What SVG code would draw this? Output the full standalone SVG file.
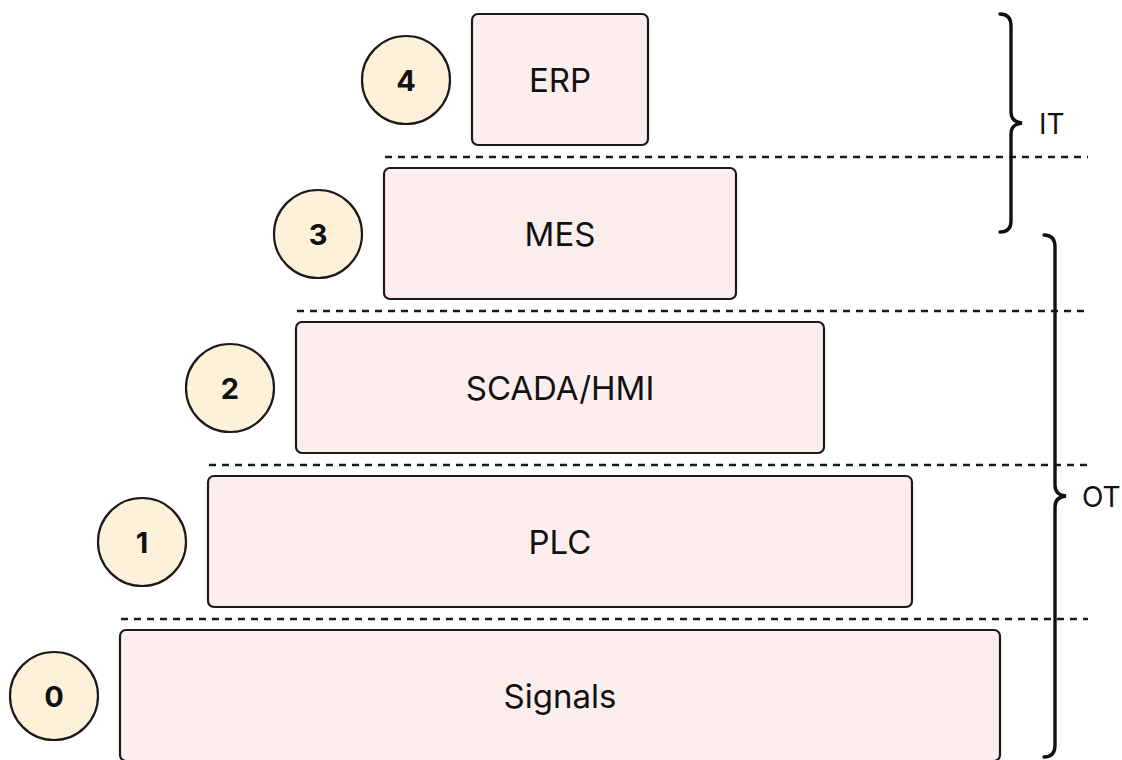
<svg xmlns="http://www.w3.org/2000/svg" width="1122" height="760" viewBox="0 0 1122 760">
  <style>
    .box { fill: #fdeeee; stroke: #1a1a1a; stroke-width: 2.2; }
    .badge { fill: #fdf1d9; stroke: #1a1a1a; stroke-width: 2.2; }
    .label { font-family: Inter, "Liberation Sans", sans-serif; font-size: 33px; fill: #111; text-anchor: middle; dominant-baseline: central; }
    .num { font-family: Inter, "Liberation Sans", sans-serif; font-size: 29px; font-weight: 700; fill: #111; text-anchor: middle; dominant-baseline: central; }
    .sep { stroke: #1a1a1a; stroke-width: 2.4; stroke-dasharray: 7 6; fill: none; }
    .brace { stroke: #111; stroke-width: 3.4; fill: none; stroke-linecap: round; }
    .group { font-family: Inter, "Liberation Sans", sans-serif; font-size: 28px; fill: #111; dominant-baseline: central; }
  </style>

  <rect width="1122" height="760" fill="#ffffff"/>

  <!-- level separators -->
  <g id="separators">
    <line class="sep" x1="385" y1="157" x2="1088" y2="157"/>
    <line class="sep" x1="297" y1="311" x2="1088" y2="311"/>
    <line class="sep" x1="209" y1="465" x2="1088" y2="465"/>
    <line class="sep" x1="121" y1="619" x2="1088" y2="619"/>
  </g>

  <!-- level 4 -->
  <g id="level-4">
    <circle class="badge" cx="406" cy="80" r="44"/>
    <text class="num" x="406" y="80">4</text>
    <rect class="box" x="472" y="14" width="176" height="131" rx="6"/>
    <text class="label" x="560" y="80">ERP</text>
  </g>

  <!-- level 3 -->
  <g id="level-3">
    <circle class="badge" cx="318" cy="234" r="44"/>
    <text class="num" x="318" y="234">3</text>
    <rect class="box" x="384" y="168" width="352" height="131" rx="6"/>
    <text class="label" x="560" y="234">MES</text>
  </g>

  <!-- level 2 -->
  <g id="level-2">
    <circle class="badge" cx="230" cy="388" r="44"/>
    <text class="num" x="230" y="388">2</text>
    <rect class="box" x="296" y="322" width="528" height="131" rx="6"/>
    <text class="label" x="560" y="388">SCADA/HMI</text>
  </g>

  <!-- level 1 -->
  <g id="level-1">
    <circle class="badge" cx="142" cy="542" r="44"/>
    <text class="num" x="142" y="542">1</text>
    <rect class="box" x="208" y="476" width="704" height="131" rx="6"/>
    <text class="label" x="560" y="542">PLC</text>
  </g>

  <!-- level 0 -->
  <g id="level-0">
    <circle class="badge" cx="54" cy="696" r="44"/>
    <text class="num" x="54" y="696">0</text>
    <rect class="box" x="120" y="630" width="880" height="131" rx="6"/>
    <text class="label" x="560" y="696">Signals</text>
  </g>

  <!-- IT / OT groupings -->
  <g id="it-group">
    <path class="brace" d="M 1000 14 Q 1011 14 1011 26 L 1011 112 Q 1011 122 1022 123 Q 1011 124 1011 134 L 1011 221 Q 1011 232 1000 232"/>
    <text class="group" x="1039" y="124">IT</text>
  </g>
  <g id="ot-group">
    <path class="brace" d="M 1044 235 Q 1055 235 1055 247 L 1055 485 Q 1055 495 1066 496 Q 1055 497 1055 507 L 1055 745 Q 1055 757 1044 757"/>
    <text class="group" x="1082" y="497">OT</text>
  </g>
</svg>
